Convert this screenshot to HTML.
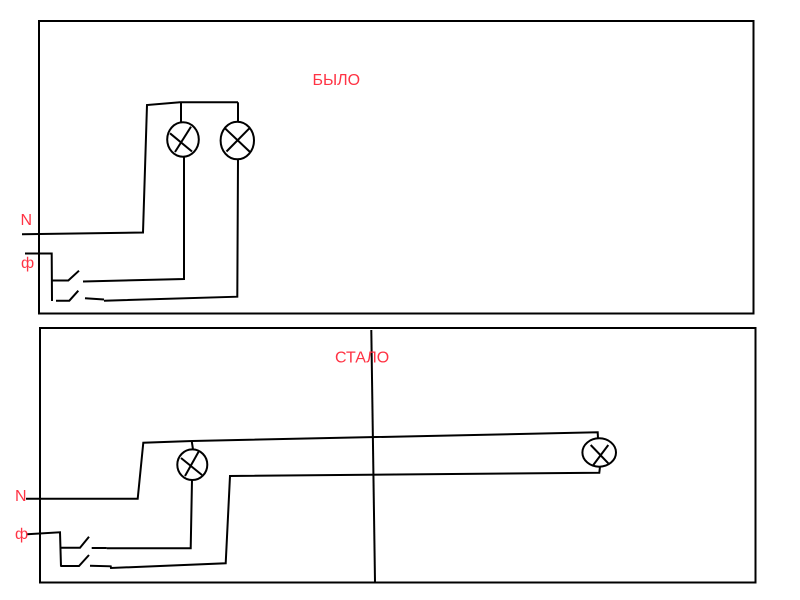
<!DOCTYPE html>
<html>
<head>
<meta charset="utf-8">
<style>
html,body{margin:0;padding:0;background:#fff;}
svg{display:block;}
text{font-family:"Liberation Sans","DejaVu Sans",sans-serif;font-size:16px;fill:#ff3344;}
</style>
</head>
<body>
<svg width="800" height="600" viewBox="0 0 800 600" xmlns="http://www.w3.org/2000/svg">
<g fill="none" stroke="#000" stroke-width="2" stroke-linecap="butt" stroke-linejoin="miter">
  <!-- Box 1 -->
  <rect x="39" y="21" width="714.5" height="292.5"/>
  <!-- Box 2 -->
  <rect x="40" y="328" width="715.5" height="254.5"/>

  <!-- ===== БЫЛО ===== -->
  <!-- N wire -->
  <polyline points="22,234.3 143,232.5 147,105 180,102.3 238,102.3"/>
  <!-- lamp 1 -->
  <line x1="181" y1="102.3" x2="181" y2="122.3"/>
  <ellipse cx="183" cy="139.5" rx="15.8" ry="17.2"/>
  <line x1="170" y1="133.3" x2="192" y2="151.5"/>
  <line x1="191" y1="126.7" x2="175" y2="152"/>
  <polyline points="184,156.7 184,279 83,281.5"/>
  <!-- lamp 2 -->
  <line x1="238" y1="102.3" x2="238" y2="121.7"/>
  <ellipse cx="237.3" cy="140.5" rx="16.7" ry="18.8"/>
  <line x1="225" y1="128.3" x2="250" y2="152"/>
  <line x1="250" y1="127.7" x2="226.5" y2="151.5"/>
  <polyline points="238,159.3 237.3,296.7 104,300.7"/>
  <polyline points="104,299.5 85,298.3"/>
  <!-- phase -->
  <polyline points="25,253.5 51.7,253.5 52,301"/>
  <polyline points="52,280.5 68.3,280.5 79,270.7"/>
  <polyline points="56,300.7 69.3,300.7 78.3,290.7"/>

  <!-- ===== СТАЛО ===== -->
  <!-- vertical divider line -->
  <line x1="371.3" y1="330" x2="375" y2="582"/>
  <!-- N wire -->
  <polyline points="26,498.7 137.7,498.7 143.3,442.7 192.3,441 597.7,432.3 598,438.3"/>
  <!-- near lamp -->
  <line x1="191.7" y1="441" x2="193" y2="449.3"/>
  <ellipse cx="192.3" cy="464.7" rx="15" ry="15.3"/>
  <line x1="181" y1="458" x2="202" y2="475"/>
  <line x1="199" y1="451" x2="185" y2="476"/>
  <polyline points="192,480 190.7,548.3 106.7,548.3"/>
  <line x1="106.7" y1="548" x2="91.7" y2="548"/>
  <!-- second wire to far lamp -->
  <polyline points="90,565.7 110.7,566.3 111,568 225.7,563.3 230,476 599.3,472.7 600,466.7"/>
  <!-- far lamp -->
  <ellipse cx="599.2" cy="452.5" rx="16.8" ry="14.2"/>
  <line x1="590.7" y1="445" x2="608.3" y2="463.3"/>
  <line x1="608.3" y1="445" x2="593.3" y2="465"/>
  <!-- phase -->
  <polyline points="27,534.3 60,532.3 61,566.7"/>
  <polyline points="61,547.7 80,547.7 89,536.7"/>
  <polyline points="61,566 79,566 89,555"/>
</g>
<text x="312.5" y="85">БЫЛО</text>
<text x="335" y="362.5">СТАЛО</text>
<text x="20.5" y="225">N</text>
<text x="21" y="268">ф</text>
<text x="15" y="501">N</text>
<text x="15" y="539">ф</text>
</svg>
</body>
</html>
